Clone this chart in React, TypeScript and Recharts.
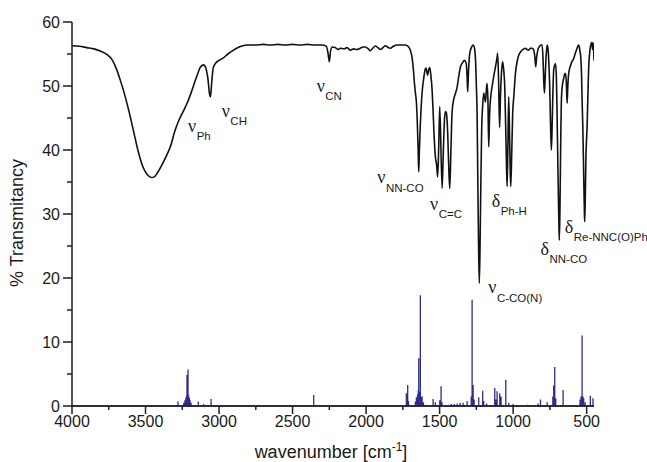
import React from 'react';
import { ComposedChart, Line, XAxis, YAxis, ReferenceDot } from 'recharts';

// Experimental IR transmittance spectrum (wavenumber in cm^-1, % transmittance)
const transWavenumbers = [
  4000, 3950, 3900, 3850, 3800, 3760, 3730, 3700, 3670, 3640, 3610, 3580, 3550, 3520, 3490, 3460, 3440,
  3420, 3390, 3360, 3330, 3300, 3270, 3240, 3210, 3180, 3150, 3125, 3105, 3090, 3075, 3065, 3058, 3050,
  3040, 3025, 3000, 2970, 2940, 2910, 2880, 2850, 2800, 2750, 2700, 2650, 2600, 2550, 2500, 2450, 2400,
  2350, 2300, 2270, 2258, 2250, 2242, 2230, 2210, 2190, 2175, 2150, 2130, 2107, 2085, 2063, 2040, 2020,
  2005, 1985, 1971, 1955, 1936, 1920, 1903, 1885, 1869, 1850, 1835, 1815, 1791, 1760, 1735, 1721, 1705,
  1695, 1687, 1678, 1671, 1664, 1658, 1652, 1646, 1642, 1638, 1632, 1626, 1617, 1608, 1598, 1592, 1585,
  1581, 1575, 1567, 1560, 1551, 1545, 1538, 1529, 1521, 1513, 1506, 1499, 1483, 1475, 1467, 1460, 1454,
  1445, 1438, 1431, 1423, 1415, 1405, 1390, 1381, 1370, 1358, 1345, 1331, 1320, 1313, 1309, 1303, 1295,
  1284, 1272, 1262, 1256, 1250, 1245, 1240, 1235, 1230, 1225, 1220, 1214, 1207, 1200, 1194, 1188, 1182,
  1177, 1171, 1166, 1160, 1150, 1143, 1132, 1120, 1110, 1105, 1099, 1092, 1086, 1078, 1071, 1064, 1057,
  1050, 1045, 1041, 1036, 1030, 1024, 1020, 1016, 1010, 1003, 995, 984, 973, 962, 950, 939, 927, 916,
  905, 894, 882, 871, 860, 852, 846, 840, 832, 821, 810, 803, 797, 792, 787, 782, 776, 769, 763, 758,
  752, 746, 740, 735, 729, 724, 718, 712, 706, 701, 696, 690, 686, 682, 677, 671, 664, 656, 650, 644,
  638, 633, 628, 622, 612, 600, 588, 576, 565, 558, 554, 546, 540, 535, 530, 526, 520, 515, 513, 509,
  505, 501, 497, 491, 486, 480, 474, 468, 464, 461, 459, 457, 454, 450,
];
const transValues = [
  56.3, 56.2, 56.0, 55.8, 55.4, 54.9, 54.2, 52.8, 50.8, 48.5, 45.8, 42.8, 39.8, 37.5, 36.2, 35.7, 35.8,
  36.4, 37.6, 39.0, 40.6, 43.0, 44.8, 46.2, 47.7, 49.6, 51.6, 53.0, 53.3, 52.8, 51.0, 48.8, 48.3, 50.5,
  52.8, 53.5, 54.0, 54.4, 55.0, 55.5, 55.9, 56.2, 56.4, 56.4, 56.5, 56.4, 56.5, 56.4, 56.5, 56.4, 56.5,
  56.4, 56.4, 56.2, 55.0, 53.8, 55.4, 56.1, 56.0, 55.7, 55.9, 55.8, 56.0, 55.6, 55.8, 55.7, 55.9, 56.1,
  56.1, 55.8, 55.5, 55.9, 56.25, 56.0, 55.7, 56.0, 56.3, 56.0, 55.9, 56.2, 56.4, 56.4, 56.4, 56.3, 55.9,
  55.3, 54.4, 52.5, 50.4, 48.8, 47.5, 44.5, 40.0, 36.6, 39.5, 43.5, 46.5, 49.5, 51.2, 52.6, 52.8, 52.0,
  51.7, 52.5, 52.9, 51.8, 49.4, 46.5, 42.5, 39.0, 37.8, 35.8, 40.5, 46.8, 34.0, 39.5, 44.7, 46.0, 45.8,
  42.6, 37.5, 34.0, 40.0, 46.0, 47.8, 49.0, 49.8, 51.5, 53.0, 53.6, 54.0, 53.6, 51.5, 49.1, 52.5, 55.1,
  56.0, 56.4, 55.8, 54.2, 50.0, 45.7, 35.0, 25.0, 19.2, 25.0, 34.0, 43.1, 47.0, 48.9, 48.2, 47.5, 49.5,
  50.4, 47.5, 40.5, 45.5, 48.8, 49.9, 51.5, 53.0, 54.3, 55.1, 51.0, 43.5, 48.5, 52.5, 53.8, 52.5, 49.9,
  43.0, 37.5, 34.3, 40.0, 48.3, 42.0, 37.0, 34.3, 39.0, 45.7, 48.5, 52.0, 53.8, 54.8, 55.3, 55.6, 55.8, 55.9,
  55.7, 55.6, 55.9, 55.9, 55.6, 54.5, 53.0, 54.5, 55.6, 56.2, 56.4, 56.4, 54.5, 51.0, 48.9, 51.5, 54.5, 56.4, 55.8, 54.1,
  50.5, 44.5, 40.0, 43.5, 49.5, 52.5, 53.2, 53.5, 51.5, 45.7, 38.0, 30.0, 25.9, 30.0, 40.0, 48.3, 50.3, 51.2, 51.8, 52.0,
  50.5, 47.3, 50.0, 52.0, 53.0, 53.8, 54.3, 55.2, 55.9, 56.3, 56.4, 55.5, 54.5, 52.0, 47.0, 43.6, 36.0, 30.0, 28.8, 33.0,
  39.0, 41.5, 43.6, 49.0, 53.0, 55.0, 56.2, 56.7, 56.8, 56.0, 55.7, 56.7, 56.3, 54.0,
];

// Calculated stick spectrum (wavenumber, intensity)
const stickWavenumbers = [
  3279, 3240, 3232, 3226, 3221, 3218, 3214, 3211, 3207, 3202, 3197, 3190, 3141, 3105, 3054, 2356,
  1726, 1717, 1712, 1665, 1658, 1650, 1645, 1642, 1636, 1631, 1625, 1619, 1610, 1544, 1529, 1499, 1490,
  1484, 1420, 1400, 1380, 1360, 1340, 1313, 1285, 1279, 1272, 1265, 1234, 1207, 1200, 1180, 1125, 1118,
  1109, 1091, 1082, 1050, 1030, 1000, 900, 830, 814, 769, 730, 724, 717, 710, 660, 545, 538, 531, 525,
  520, 510, 475, 457,
];
const stickIntensities = [
  0.7, 0.5, 0.9, 1.3, 1.6, 4.85, 1.8, 5.7, 1.7, 1.3, 0.9, 0.5, 0.7, 0.3, 1.1, 1.7,
  2.0, 3.3, 0.8, 0.7, 1.35, 1.8, 2.5, 7.45, 2.2, 17.3, 1.5, 1.5, 0.6, 1.1, 0.6, 0.9, 3.1,
  0.6, 0.3, 0.3, 0.4, 0.5, 0.5, 0.8, 1.5, 16.6, 3.3, 1.0, 1.35, 2.4, 0.8, 0.4, 2.8, 1.0,
  2.3, 2.0, 1.5, 4.1, 0.5, 0.3, 0.2, 0.4, 1.0, 0.6, 1.5, 3.2, 6.1, 1.2, 2.5, 1.0, 1.5, 11.0, 1.5,
  1.2, 0.6, 1.6, 1.2,
];

const xTicks = [4000, 3750, 3500, 3250, 3000, 2750, 2500, 2250, 2000, 1750, 1500, 1250, 1000, 750, 500];
const yTicks = [0, 5, 10, 15, 20, 25, 30, 35, 40, 45, 50, 55, 60];

// Band assignments
const annotationSymbols = ['ν', 'ν', 'ν', 'ν', 'ν', 'δ', 'ν', 'δ', 'δ'];
const annotationSubscripts = ['Ph', 'CH', 'CN', 'NN-CO', 'C=C', 'Ph-H', 'C-CO(N)', 'NN-CO', 'Re-NNC(O)Ph'];
const annotationWavenumbers = [3211, 2982, 2336, 1924, 1565, 1146, 1169, 814, 649];
const annotationValues = [42.86, 45.16, 49.1, 34.77, 30.63, 31.17, 17.6, 23.6, 27.1];

const transData = transWavenumbers.map((w, i) => ({ w, t: transValues[i] }));
const stickData: { w: number; s: number }[] = [{ w: 4000, s: 0 }];
stickWavenumbers.forEach((w, i) => {
  stickData.push({ w, s: 0 }, { w, s: stickIntensities[i] }, { w, s: 0 });
});
stickData.push({ w: 450, s: 0 });

const AXIS = '#1e1e1e';
const TEXT = '#1a1a1a';
const SANS = '"Liberation Sans", Arial, Helvetica, sans-serif';
const SERIF = '"Liberation Serif", "Times New Roman", serif';

const XTick = (props: any) => {
  const { x, y, payload } = props;
  const major = payload.value % 500 === 0;
  return (
    <g>
      <line x1={x} x2={x} y1={y} y2={y + (major ? 8 : 4)} stroke={AXIS} strokeWidth={1.5} />
      {major && (
        <text x={x} y={y + 21} textAnchor="middle" fontFamily={SANS} fontSize={16} fill={TEXT}>
          {payload.value}
        </text>
      )}
    </g>
  );
};

const YTick = (props: any) => {
  const { x, y, payload } = props;
  const major = payload.value % 10 === 0;
  return (
    <g>
      <line x1={x - (major ? 9 : 5)} x2={x} y1={y} y2={y} stroke={AXIS} strokeWidth={1.5} />
      {major && (
        <text x={x - 12} y={y} dy="0.36em" textAnchor="end" fontFamily={SANS} fontSize={16} fill={TEXT}>
          {payload.value}
        </text>
      )}
    </g>
  );
};

const YTitle = () => (
  <text
    x={23}
    y={223}
    transform="rotate(-90 23 223)"
    textAnchor="middle"
    fontFamily={SANS}
    fontSize={18}
    fill={TEXT}
  >
    % Transmitancy
  </text>
);

const XTitle = () => (
  <text x={331} y={458} textAnchor="middle" fontFamily={SANS} fontSize={18} fill={TEXT}>
    <tspan>wavenumber [cm</tspan>
    <tspan fontSize={12} dy={-7}>-1</tspan>
    <tspan dy={7}>]</tspan>
  </text>
);

const makeAnnotation = (sym: string, sub: string) => (p: any) => (
  <text x={p.cx} y={p.cy} fill={TEXT}>
    <tspan fontFamily={SERIF} fontSize={18}>{sym}</tspan>
    <tspan fontFamily={SANS} fontSize={11.5} dy={8.5} dx={0.5}>{sub}</tspan>
  </text>
);

export default function App() {
  return (
    <div style={{ position: 'absolute', left: 0, top: 0, width: 647, height: 462, background: '#fff' }}>
      <ComposedChart width={647} height={462} margin={{ top: 22, right: 53, left: 0, bottom: 16 }}>
        <XAxis
          dataKey="w"
          type="number"
          domain={[450, 4000]}
          allowDataOverflow
          reversed
          ticks={xTicks}
          interval={0}
          height={40}
          tickSize={0}
          tickMargin={0}
          tick={<XTick />}
          axisLine={{ stroke: AXIS, strokeWidth: 1.5 }}
          label={<XTitle />}
        />
        <YAxis
          type="number"
          domain={[0, 60]}
          ticks={yTicks}
          interval={0}
          width={72}
          tickSize={0}
          tickMargin={0}
          tick={<YTick />}
          axisLine={{ stroke: AXIS, strokeWidth: 1.5 }}
          label={<YTitle />}
        />
        <Line
          data={stickData}
          dataKey="s"
          type="linear"
          stroke="#2e2e8a"
          strokeWidth={1.3}
          dot={false}
          activeDot={false}
          isAnimationActive={false}
        />
        <Line
          data={transData}
          dataKey="t"
          type="monotone"
          stroke="#111111"
          strokeWidth={1.6}
          dot={false}
          activeDot={false}
          isAnimationActive={false}
        />
        {annotationSymbols.map((sym, i) => (
          <ReferenceDot
            key={i}
            x={annotationWavenumbers[i]}
            y={annotationValues[i]}
            r={2}
            ifOverflow="visible"
            shape={makeAnnotation(sym, annotationSubscripts[i])}
          />
        ))}
      </ComposedChart>
    </div>
  );
}
